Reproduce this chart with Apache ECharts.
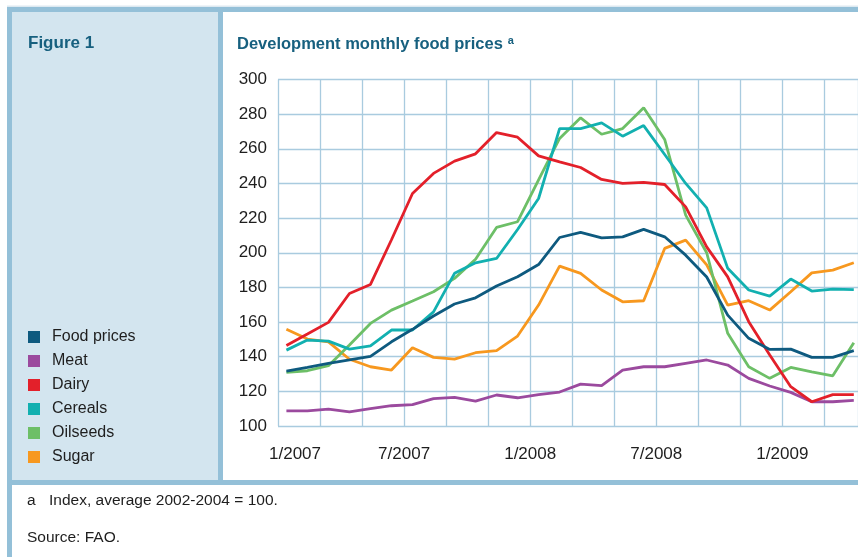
<!DOCTYPE html>
<html>
<head>
<meta charset="utf-8">
<title>Development monthly food prices</title>
<script src="https://cdn.jsdelivr.net/npm/echarts@6/dist/echarts.min.js"></script>
<style>
  html, body { margin: 0; padding: 0; background: #fff; }
  #chart { width: 858px; height: 557px; }
</style>
</head>
<body>
<div id="chart"></div>
<script>
// FAO monthly index, 1/2007 .. 4/2009 (average 2002-2004 = 100)
const months = ['1/2007', '2/2007', '3/2007', '4/2007', '5/2007', '6/2007', '7/2007', '8/2007', '9/2007', '10/2007', '11/2007', '12/2007',
  '1/2008', '2/2008', '3/2008', '4/2008', '5/2008', '6/2008', '7/2008', '8/2008', '9/2008', '10/2008', '11/2008', '12/2008',
  '1/2009', '2/2009', '3/2009', '4/2009']
const foodPrices = [131.7, 133.8, 136.1, 138.1, 140.2, 148.6, 155.8, 163.5, 170.4, 174.0, 180.8, 186.1,
  193.2, 208.8, 211.7, 208.6, 209.2, 213.5, 209.2, 198.6, 186.0, 164.0, 150.6, 144.2, 144.4, 139.6, 139.6, 143.5]
const meat = [108.7, 108.7, 109.8, 108.1, 110.0, 111.7, 112.3, 115.8, 116.5, 114.4, 117.9, 116.3,
  118.1, 119.6, 124.2, 123.3, 132.3, 134.2, 134.2, 136.2, 138.1, 135.2, 127.5, 123.1, 119.4, 114.0, 114.0, 114.8]
const dairy = [146.5, 153.1, 159.8, 176.5, 181.7, 207.5, 234.2, 245.8, 252.9, 257.1, 269.4, 266.7,
  255.9, 252.5, 249.2, 242.3, 240.0, 240.6, 239.4, 226.5, 203.4, 186.1, 160.2, 141.0, 122.7, 114.0, 118.1, 118.1]
const cereals = [143.8, 149.6, 149.0, 144.4, 146.3, 155.4, 155.4, 165.9, 188.1, 194.2, 196.7, 213.4,
  231.3, 271.7, 271.7, 275.0, 267.3, 273.4, 256.7, 240.0, 225.9, 191.0, 178.5, 175.0, 184.8, 177.9, 179.0, 178.7]
const oilseeds = [131.0, 131.9, 134.8, 146.7, 159.2, 166.9, 172.1, 177.5, 185.2, 196.3, 214.6, 217.9,
  242.0, 266.0, 277.9, 268.4, 271.7, 283.7, 265.4, 221.7, 200.0, 153.5, 134.2, 127.5, 133.8, 131.3, 129.0, 148.1]
const sugar = [155.8, 150.2, 148.6, 138.5, 134.2, 132.3, 145.2, 139.6, 138.6, 142.3, 143.5, 151.9,
  169.8, 192.3, 188.1, 178.5, 171.7, 172.3, 202.5, 207.3, 193.0, 169.8, 172.3, 166.9, 177.5, 188.4, 190.0, 194.2]
const tickLabels = ['1/2007', '7/2007', '1/2008', '7/2008', '1/2009']

const font = "'Liberation Sans', Arial, sans-serif"
const frameColor = '#94c0d8'
const gridColor = '#a9cbdf'
const titleColor = '#17607f'
const textColor = '#1e1e1e'

function makeSeries(name, values, color) {
  return {
    name: name,
    type: 'line',
    data: values.map((v, i) => [i, v]),
    symbol: 'none',
    lineStyle: { color: color, width: 2.8 },
    itemStyle: { color: color },
    z: 3
  }
}

let chart = echarts.init(document.getElementById('chart'))
let option = {
  backgroundColor: '#ffffff',
  animation: false,
  textStyle: { fontFamily: font },
  graphic: [
    { type: 'rect', z: -10, shape: { x: 7, y: 5.5, width: 851, height: 1.5 }, style: { fill: '#dde9f1' } },
    { type: 'rect', z: -10, shape: { x: 12, y: 12, width: 206, height: 468 }, style: { fill: '#d3e5ef' } },
    { type: 'rect', z: -9, shape: { x: 7, y: 7, width: 851, height: 5 }, style: { fill: frameColor } },
    { type: 'rect', z: -9, shape: { x: 7, y: 7, width: 5, height: 550 }, style: { fill: frameColor } },
    { type: 'rect', z: -9, shape: { x: 218, y: 7, width: 5, height: 478 }, style: { fill: frameColor } },
    { type: 'rect', z: -9, shape: { x: 7, y: 480, width: 851, height: 5 }, style: { fill: frameColor } }
  ],
  title: [
    {
      text: 'Figure 1', left: 28, top: 35, padding: 0,
      textStyle: { fontSize: 17, fontWeight: 'bold', color: titleColor, fontFamily: font }
    },
    {
      text: '{t|Development monthly food prices} {s|a}', left: 237, top: 35, padding: 0,
      textStyle: {
        rich: {
          t: { fontSize: 16.5, fontWeight: 'bold', color: titleColor, fontFamily: font },
          s: { fontSize: 11, fontWeight: 'bold', color: titleColor, fontFamily: font, verticalAlign: 'top', padding: [0, 0, 8, 0] }
        }
      }
    },
    {
      text: 'a', left: 27, top: 493, padding: 0,
      textStyle: { fontSize: 15.5, fontWeight: 'normal', color: textColor, fontFamily: font }
    },
    {
      text: 'Index, average 2002-2004 = 100.', left: 49, top: 493, padding: 0,
      textStyle: { fontSize: 15.5, fontWeight: 'normal', color: textColor, fontFamily: font }
    },
    {
      text: 'Source: FAO.', left: 27, top: 530, padding: 0,
      textStyle: { fontSize: 15.5, fontWeight: 'normal', color: textColor, fontFamily: font }
    }
  ],
  legend: {
    orient: 'vertical',
    left: 28,
    top: 328,
    padding: 0,
    icon: 'rect',
    itemWidth: 12,
    itemHeight: 12,
    itemGap: 6,
    textStyle: { fontSize: 16, lineHeight: 18, color: textColor, fontFamily: font, padding: [0, 0, 0, 7] },
    data: ['Food prices', 'Meat', 'Dairy', 'Cereals', 'Oilseeds', 'Sugar']
  },
  tooltip: {
    trigger: 'axis',
    formatter: params => months[params[0].data[0]] + '<br>' +
      params.map(p => p.marker + p.seriesName + ': ' + p.data[1]).join('<br>')
  },
  grid: { left: 278, top: 79.5, right: 0, bottom: 131, containLabel: false },
  xAxis: {
    type: 'value',
    min: -0.4,
    max: 27.2,
    interval: 2,
    axisLine: { show: false },
    axisTick: { show: false },
    splitLine: { show: true, lineStyle: { color: gridColor, width: 1.3 } },
    axisLabel: {
      margin: 20,
      fontSize: 17,
      color: textColor,
      fontFamily: font,
      showMinLabel: true,
      showMaxLabel: false,
      formatter: function (v) {
        let k = Math.round((v + 0.4) / 2)
        if (k % 3 !== 0 || k / 3 >= tickLabels.length) return ''
        if (k === 0) return '{first|' + tickLabels[0] + '}'
        return tickLabels[k / 3]
      },
      rich: {
        first: { fontSize: 17, color: textColor, fontFamily: font, padding: [0, 0, 0, 34] }
      }
    }
  },
  yAxis: {
    type: 'value',
    min: 100,
    max: 300,
    interval: 20,
    axisLine: { show: false },
    axisTick: { show: false },
    splitLine: { show: true, lineStyle: { color: gridColor, width: 1.3 } },
    axisLabel: { margin: 11, fontSize: 17, color: textColor, fontFamily: font }
  },
  series: [
    makeSeries('Meat', meat, '#9b4a9e'),
    makeSeries('Sugar', sugar, '#f7981f'),
    makeSeries('Oilseeds', oilseeds, '#6dbf67'),
    makeSeries('Cereals', cereals, '#12b0b0'),
    makeSeries('Dairy', dairy, '#e3202a'),
    makeSeries('Food prices', foodPrices, '#0e5a7f')
  ]
}
chart.setOption(option)
</script>
</body>
</html>
